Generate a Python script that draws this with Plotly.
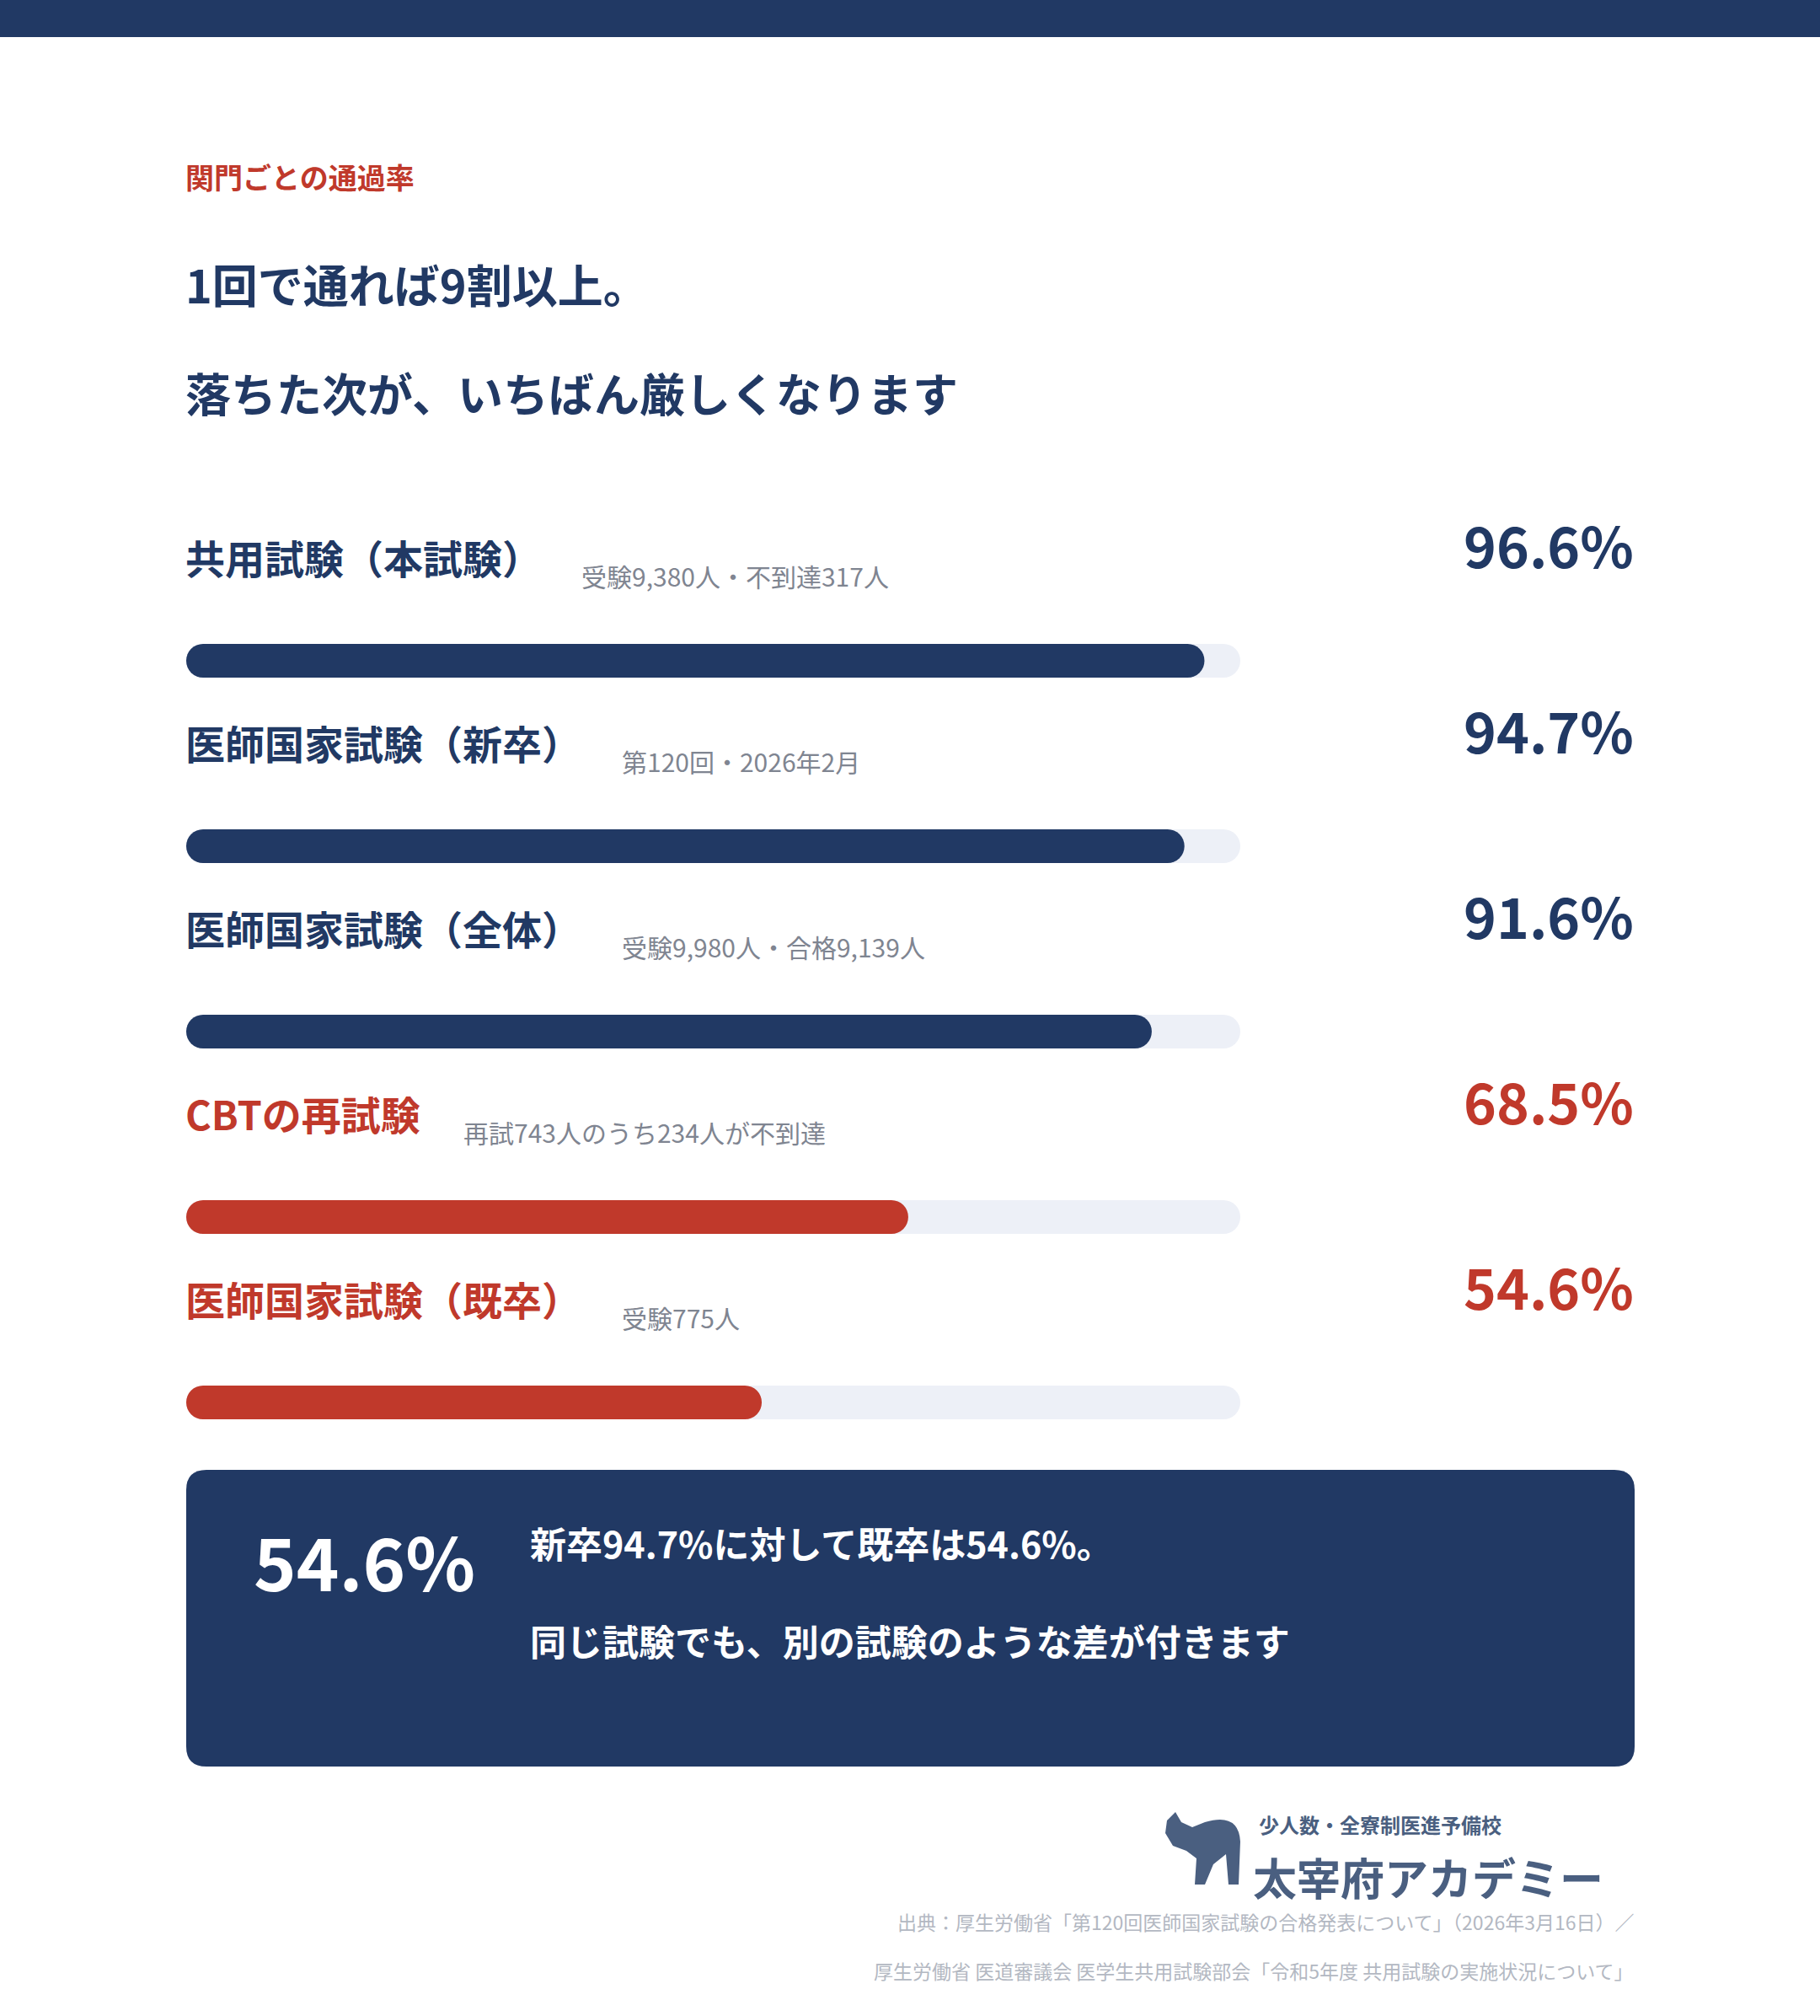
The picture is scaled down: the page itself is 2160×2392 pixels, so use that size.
import plotly.graph_objects as go

W, H = 2160, 2392
NAVY = "#213964"
RED = "#c0392b"
FONT = "Noto Sans CJK JP"

labels = ["共用試験（本試験）", "医師国家試験（新卒）", "医師国家試験（全体）", "CBTの再試験", "医師国家試験（既卒）"]
subs = ["受験9,380人・不到達317人", "第120回・2026年2月", "受験9,980人・合格9,139人", "再試743人のうち234人が不到達", "受験775人"]
values = [96.6, 94.7, 91.6, 68.5, 54.6]
pct_text = ["96.6%", "94.7%", "91.6%", "68.5%", "54.6%"]
is_red = [False, False, False, True, True]

row0, step = 660, 220
sub_x = [689, 737, 737, 549, 737]
bar_y = [784 + i * step for i in range(len(values))]
colors = [RED if r else NAVY for r in is_red]

fig = go.Figure()
fig.add_trace(go.Scatter(x=[0, W], y=[0, H], mode="markers", marker=dict(opacity=0), hoverinfo="skip", showlegend=False))
fig.add_trace(go.Bar(x=[100] * len(values), y=bar_y, orientation="h", width=40, base=0,
                     marker=dict(color="#edf0f7", cornerradius=20, line=dict(width=0)),
                     xaxis="x2", yaxis="y2", showlegend=False, hoverinfo="skip"))
fig.add_trace(go.Bar(x=values, y=bar_y, orientation="h", width=40, base=0,
                     marker=dict(color=colors, cornerradius=20, line=dict(width=0)),
                     xaxis="x2", yaxis="y2", showlegend=False, hoverinfo="skip"))

ann = []
def T(x, y, text, size, color, bold=False, xanchor="left", yanchor="middle"):
    ann.append(dict(x=x, y=y, xref="x", yref="y", text=f"<b>{text}</b>" if bold else text,
                    showarrow=False, xanchor=xanchor, yanchor=yanchor, borderpad=0,
                    font=dict(family=FONT, size=size, color=color)))

T(219, 209, "関門ごとの通過率", 34, RED, True)
T(219, 336, "1回で通れば9割以上。", 54, NAVY, True)
T(219, 465, "落ちた次が、いちばん厳しくなります", 54, NAVY, True)

for i in range(len(values)):
    y = row0 + i * step
    c = colors[i]
    T(219, y, labels[i], 47, c, True)
    T(sub_x[i], y + 23, subs[i], 30, "#7f8591")
    T(1940, y - 15, pct_text[i], 66, c, True, xanchor="right")

T(300, 1850, "54.6%", 86, "white", True)
T(628, 1830, "新卒94.7%に対して既卒は54.6%。", 43, "white", True)
T(628, 1946, "同じ試験でも、別の試験のような差が付きます", 43, "white", True)

T(1493, 2164, "少人数・全寮制医進予備校", 24, "#4a5f80", True)
T(1486, 2226, "太宰府アカデミー", 52, "#4a5f80", True)
T(1940, 2280, "出典：厚生労働省「第120回医師国家試験の合格発表について」（2026年3月16日）／", 23, "#b3b8c2", xanchor="right")
T(1940, 2338, "厚生労働省 医道審議会 医学生共用試験部会「令和5年度 共用試験の実施状況について」", 23, "#b3b8c2", xanchor="right")

def rrect(x0, y0, x1, y1, r):
    return (f"M{x0+r},{y0} L{x1-r},{y0} Q{x1},{y0} {x1},{y0+r} L{x1},{y1-r} Q{x1},{y1} {x1-r},{y1} "
            f"L{x0+r},{y1} Q{x0},{y1} {x0},{y1-r} L{x0},{y0+r} Q{x0},{y0} {x0+r},{y0} Z")

shapes = [
    dict(type="rect", xref="x", yref="y", x0=0, x1=W, y0=0, y1=44, fillcolor=NAVY, line=dict(width=0), layer="below"),
    dict(type="path", xref="x", yref="y", path=rrect(221, 1744, 1940, 2096, 24), fillcolor=NAVY, line=dict(width=0), layer="below"),
    dict(type="path", xref="x", yref="y",
         path="M1385,2160 L1395,2150 L1402,2162 L1415,2168 L1430,2162 Q1470,2150 1472,2185 L1470,2236 L1458,2236 L1455,2200 L1440,2212 L1430,2236 L1418,2236 L1420,2205 L1408,2196 L1392,2190 L1383,2175 Z",
         fillcolor="#4a5f80", line=dict(width=0)),
]

fig.update_layout(
    width=W, height=H, margin=dict(l=0, r=0, t=0, b=0),
    paper_bgcolor="white", plot_bgcolor="rgba(0,0,0,0)", barmode="overlay",
    xaxis=dict(range=[0, W], visible=False, domain=[0, 1]),
    yaxis=dict(range=[H, 0], visible=False, domain=[0, 1]),
    xaxis2=dict(range=[0, 100], domain=[221 / W, 1472 / W], visible=False, anchor="y2"),
    yaxis2=dict(range=[H, 0], domain=[0, 1], visible=False, anchor="x2", overlaying="y"),
    annotations=ann, shapes=shapes,
)

div = fig.to_html(full_html=False, include_plotlyjs=True, config={"displayModeBar": False})
html = ("<!DOCTYPE html><html><head><meta charset='utf-8'>"
        "<style>html,body{margin:0;padding:0;background:white;}</style></head><body>"
        + div + "</body></html>")
with open("out.html", "w", encoding="utf-8") as f:
    f.write(html)
